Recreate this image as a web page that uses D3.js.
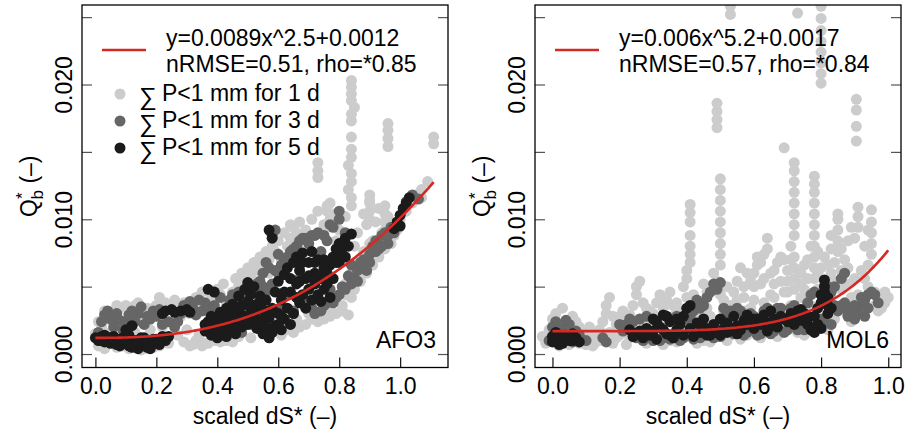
<!DOCTYPE html>
<html>
<head>
<meta charset="utf-8">
<script src="https://cdn.jsdelivr.net/npm/d3@7"></script>
<style>
  body { margin: 0; background: #fff; }
  text { font-family: "Liberation Sans", Arial, sans-serif; }
</style>
</head>
<body>
<svg id="chart" width="908" height="437"></svg>
<script>
// scatter values are [scaled dS*, Q*b in units of 1e-3]

// AFO3, dry spell of 1, 3 and 5 days
const afoDry1 = [
  [0,1.5],[0.01,0.6],[0.02,2.0],[0.03,0.4],[0.04,2.6],[0.05,1.6],[0.06,3.0],[0.07,0.5],[0.08,3.4],[0.09,2.2],
  [0.1,3.6],[0.11,0.4],[0.12,3.2],[0.13,1.6],[0.14,3.8],[0.15,0.3],[0.16,2.4],[0.17,3.4],[0.18,1.8],[0.19,0.5],
  [0.2,3.6],[0.21,4.2],[0.22,2.0],[0.23,3.8],[0.24,0.8],[0.25,2.4],[0.26,4.0],[0.27,1.4],[0.28,2.8],[0.29,0.9],
  [0.3,1.8],[0.31,3.0],[0.32,0.7],[0.33,4.2],[0.34,1.4],[0.35,4.6],[0.36,0.8],[0.37,3.4],[0.38,4.4],[0.39,1.0],
  [0.4,4.8],[0.41,0.9],[0.42,5.2],[0.43,3.8],[0.44,1.1],[0.45,4.6],[0.46,5.6],[0.47,1.3],[0.48,6.0],[0.49,3.0],
  [0.5,6.4],[0.51,1.2],[0.52,6.8],[0.53,5.2],[0.54,7.2],[0.55,1.6],[0.56,7.6],[0.57,6.0],[0.58,8.0],[0.59,2.2],
  [0.6,8.4],[0.61,7.0],[0.62,9.0],[0.63,1.8],[0.64,8.6],[0.65,9.4],[0.66,2.6],[0.67,9.8],[0.68,7.6],[0.69,9.2],
  [0.7,3.0],[0.71,10.0],[0.72,8.8],[0.73,10.6],[0.74,2.8],[0.75,9.6],[0.76,11.0],[0.77,3.4],[0.78,10.4],[0.79,8.4],
  [0.8,9.2],[0.81,3.6],[0.82,10.2],[0.83,2.9],[0.84,4.2],[0.85,8.0],[0.86,9.0],[0.87,6.2],[0.88,10.4],[0.89,9.6],
  [0.9,11.4],[0.91,8.4],[0.92,9.8],[0.93,10.8],[0.94,9.0],[0.95,8.6],[0.96,10.2],[0.97,9.4],[0.98,8.8],[1.0,10.0],
  [1.05,11.8],[1.07,12.2],[1.09,12.8],[0.82,5.2],[0.84,6.0],[0.86,6.8],[0.88,7.6],[0.9,8.2],[0.82,4.4],
  [0.84,11.0],[0.84,11.6],[0.83,12.2],[0.84,12.8],[0.84,13.4],[0.83,14.0],[0.84,14.6],[0.84,15.2],[0.84,16.1],
  [0.84,17.3],[0.84,17.8],[0.85,18.3],[0.84,18.8],[0.84,19.3],[0.84,19.8],[0.84,20.3],
  [0.96,15.4],[0.96,16.0],[0.96,16.6],[0.96,17.1],[1.11,15.6],[1.11,16.1],[0.73,13.1],[0.73,13.6],[0.73,14.2],
  [0.76,9.4],[0.77,10.0],[0.76,10.6],[0.77,11.2],[0.9,10.0],[0.9,10.6],[0.9,11.2],[0.9,11.8],
  [0.95,9.2],[0.95,9.8],[0.95,10.4],[0.95,11.0],[0.64,9.6],[0.66,9.0],[1.07,11.6],
  [0.01,2.4],[0.03,3.2],[0.05,2.8],[0.07,3.6],[0.09,0.6],[0.11,3.0],[0.13,3.6],[0.15,3.2],[0.17,0.4],[0.19,3.4],
  [0.21,0.6],[0.23,1.0],[0.25,3.6],[0.27,3.4],[0.29,3.8],[0.31,0.6],[0.33,1.0],[0.35,0.6],[0.37,0.8],[0.39,4.0],
  [0.41,4.4],[0.43,1.0],[0.45,0.9],[0.47,5.0],[0.49,5.4],[0.51,5.8],[0.53,6.2],[0.55,6.6],[0.57,7.0],[0.59,7.6],
  [0.61,1.4],[0.63,8.0],[0.65,1.6],[0.67,2.0],[0.69,2.2],[0.71,2.6],[0.73,2.4],[0.75,2.6],[0.77,2.8],[0.79,3.0],
  [0.81,3.2],[0.85,4.8],[0.87,5.4],[0.89,6.0],[0.91,6.6],[0.93,7.2],[0.95,7.8],[0.97,8.2],[0.99,9.2],[1.02,10.6],
  [1.04,11.2]
];
const afoDry3 = [
  [0.01,1.6],[0.02,2.4],[0.03,2.9],[0.04,3.2],[0.05,2.6],[0.06,2.0],[0.07,3.0],[0.08,2.5],[0.09,1.8],[0.13,2.4],
  [0.14,3.0],[0.15,3.5],[0.16,2.2],[0.18,2.6],[0.19,3.2],[0.2,2.8],[0.26,2.0],[0.27,2.4],[0.29,3.6],[0.31,3.9],
  [0.32,3.4],[0.33,2.9],[0.36,3.8],[0.35,3.2],
  [0.38,2.4],[0.39,3.6],[0.41,4.2],[0.42,1.4],[0.43,2.8],[0.44,4.0],[0.45,2.2],[0.46,3.5],[0.47,4.6],[0.48,1.6],
  [0.49,3.9],[0.5,4.4],[0.51,2.2],[0.52,4.8],[0.53,2.6],[0.54,5.4],[0.55,6.0],[0.56,4.6],[0.57,6.4],[0.58,5.2],
  [0.58,8.8],[0.59,9.2],[0.6,6.0],[0.61,3.4],[0.62,7.0],[0.63,4.4],[0.64,7.6],[0.65,3.2],[0.66,8.0],[0.67,5.6],
  [0.68,8.6],[0.69,4.0],[0.7,8.2],[0.71,3.4],[0.72,8.8],[0.73,4.2],[0.74,7.6],[0.75,3.6],[0.76,8.4],[0.77,4.8],
  [0.78,9.4],[0.79,4.2],[0.8,10.0],[0.81,5.0],[0.8,10.6],[0.82,9.0],[0.83,5.8],[0.84,6.6],[0.85,5.6],[0.86,6.2],
  [0.87,6.8],[0.88,7.0],[0.89,6.2],[0.9,7.4],[0.91,8.0],[0.92,8.4],[0.93,7.8],[0.94,8.8],[0.95,9.0],[0.96,8.2],
  [0.97,9.4],[1.02,11.3],[1.04,11.8],[1.06,11.5],
  [0.1,2.4],[0.11,2.9],[0.12,3.2],[0.17,2.8],[0.21,3.3],[0.22,2.2],[0.24,2.4],[0.28,3.0],[0.3,3.6],[0.34,4.0],
  [0.37,3.2],[0.4,3.0],[0.45,4.4],[0.48,4.2],[0.5,3.4],[0.53,5.2],[0.55,5.0],[0.56,6.8],[0.59,6.2],[0.6,7.4],
  [0.61,6.6],[0.63,7.2],[0.65,7.8],[0.67,8.4],[0.69,8.6],[0.71,8.8],[0.73,9.0],[0.75,8.8],[0.77,9.6],[0.72,3.0],
  [0.74,3.2],[0.76,3.8],[0.78,3.8],[0.8,4.4],[0.82,4.8],[0.84,5.2],[0.86,5.4],[0.88,6.4],[0.9,6.8],[0.92,7.6],
  [0.94,8.0],[0.96,8.8],[0.98,9.0]
];
const afoDry5 = [
  [0,1.2],[0.01,1.0],[0.02,1.3],[0.03,0.9],[0.04,1.2],[0.05,0.8],[0.06,1.3],[0.07,1.0],[0.08,0.6],[0.09,1.2],
  [0.1,0.8],[0.1,1.8],[0.11,1.4],[0.12,2.1],[0.12,0.5],[0.13,1.0],[0.14,0.4],[0.15,1.2],[0.16,0.7],[0.17,1.0],
  [0.18,0.4],[0.19,0.8],[0.2,1.1],[0.21,0.7],[0.22,1.3],[0.23,1.0],[0.24,1.3],
  [0.22,3.0],[0.23,3.2],[0.25,3.3],[0.26,3.1],[0.28,3.2],[0.3,3.3],[0.31,3.1],
  [0.36,1.7],[0.37,2.4],[0.37,4.8],[0.38,1.4],[0.39,2.0],[0.39,4.6],[0.4,2.7],[0.4,1.2],[0.41,3.1],[0.41,1.8],
  [0.42,2.3],[0.43,3.4],[0.43,1.3],[0.44,2.7],[0.44,1.9],[0.45,3.7],[0.46,2.4],[0.46,1.5],[0.47,3.2],[0.47,4.3],
  [0.48,2.0],[0.48,3.6],[0.49,4.8],[0.49,2.8],[0.5,5.3],[0.5,3.9],[0.51,2.4],[0.51,4.4],[0.52,5.0],[0.52,3.1],
  [0.53,1.9],[0.53,3.7],[0.54,4.3],[0.54,2.3],[0.55,1.5],[0.55,3.3],[0.56,2.0],[0.56,4.0],[0.57,2.7],[0.57,1.2],
  [0.58,3.4],[0.58,8.6],[0.57,9.2],[0.59,2.1],[0.59,4.6],[0.6,3.0],[0.6,5.4],[0.61,1.8],[0.61,4.0],[0.62,5.9],
  [0.62,2.6],[0.63,3.4],[0.63,6.4],[0.64,4.6],[0.64,2.2],[0.65,6.8],[0.65,3.0],[0.66,5.2],[0.66,7.2],[0.67,3.8],
  [0.67,6.2],[0.68,7.5],[0.68,4.4],[0.69,5.6],[0.69,3.4],[0.7,6.8],[0.7,4.8],[0.71,7.6],[0.71,4.0],[0.72,6.0],
  [0.72,5.2],[0.73,4.4],[0.73,7.0],[0.74,5.6],[0.74,3.9],[0.75,6.4],[0.75,4.8],[0.76,5.2],[0.77,6.6],[0.77,4.2],
  [0.78,7.2],[0.78,5.6],[0.79,7.8],[0.8,6.8],[0.8,8.2],[0.81,7.4],[0.82,8.6],[0.83,8.0],[0.84,8.9],
  [0.98,9.3],[0.99,9.8],[1.0,10.3],[1.0,9.5],[1.01,10.8],[1.02,11.2],[1.03,11.6],
  [0.02,1.0],[0.03,1.4],[0.05,1.2],[0.07,0.7],[0.08,1.1],[0.09,0.9],[0.11,0.6],[0.13,0.7],[0.14,1.0],[0.16,1.2],
  [0.17,0.5],[0.19,1.1],[0.21,1.0],[0.36,2.2],[0.38,2.8],[0.4,1.8],[0.42,2.8],[0.44,3.2],[0.45,2.0],[0.46,3.0],
  [0.48,2.6],[0.5,2.2],[0.51,3.4],[0.53,2.6],[0.55,2.6],[0.57,3.2],[0.58,1.6],[0.6,2.2],[0.61,2.8],[0.62,4.6],
  [0.64,5.6],[0.66,4.2],[0.67,5.4],[0.68,6.8],[0.7,5.8],[0.72,6.8],[0.73,5.8],[0.75,7.0],[0.76,6.0],[0.79,6.8],
  [0.81,8.0],[0.82,7.2]
];

// MOL6, dry spell of 1, 3 and 5 days
const molDry1 = [
  [-0.03,1.3],[-0.02,0.8],[-0.01,1.8],[0,2.6],[0.01,3.0],[0.02,0.6],[0.03,3.4],[0.04,2.2],[0.05,0.7],[0.06,1.8],
  [0.07,2.4],[0.08,0.8],[0.09,1.6],[0.1,1.2],[0.11,2.0],[0.12,0.6],[0.13,1.4],[0.14,1.0],[0.15,2.4],[0.16,3.0],
  [0.16,3.6],[0.17,4.2],[0.18,2.8],[0.19,1.2],[0.2,2.8],[0.21,3.2],[0.22,0.7],[0.23,2.9],[0.24,3.6],[0.25,4.4],
  [0.25,5.0],[0.26,5.4],[0.27,3.8],[0.28,0.8],[0.29,3.2],[0.3,1.4],[0.31,3.8],[0.32,4.4],[0.33,0.7],[0.34,4.0],
  [0.35,4.6],[0.36,3.6],[0.37,0.9],[0.38,3.2],[0.39,5.0],[0.4,5.6],[0.4,6.2],[0.41,6.8],[0.41,7.4],[0.41,8.0],
  [0.41,8.8],[0.41,9.8],[0.41,10.5],[0.41,11.1],[0.42,4.4],[0.43,0.8],[0.44,3.0],[0.45,5.2],[0.46,3.4],[0.47,0.9],
  [0.48,6.0],[0.49,5.4],[0.5,6.6],[0.5,7.4],[0.5,8.2],[0.5,9.0],[0.5,9.8],[0.5,10.6],[0.5,11.4],[0.5,12.2],
  [0.5,13.0],[0.49,16.8],[0.49,17.4],[0.49,18.0],[0.49,18.6],[0.51,4.0],[0.52,1.0],[0.53,3.6],[0.53,25.2],[0.53,25.8],
  [0.54,4.6],[0.55,5.4],[0.56,1.1],[0.57,4.2],[0.58,6.0],[0.59,3.4],[0.6,5.0],[0.61,6.6],[0.61,7.2],[0.62,1.2],
  [0.63,5.6],[0.64,7.8],[0.64,8.6],[0.65,4.4],[0.66,6.2],[0.67,1.3],[0.68,5.4],[0.69,7.0],[0.69,15.3],[0.7,4.6],
  [0.71,8.0],[0.72,5.6],[0.72,6.4],[0.72,7.2],[0.72,8.8],[0.72,9.6],[0.72,10.4],[0.72,11.2],[0.72,12.0],[0.72,12.8],
  [0.72,13.6],[0.72,14.2],[0.73,25.3],[0.74,4.2],[0.75,1.4],[0.76,7.0],[0.78,5.6],[0.78,6.4],[0.78,7.2],[0.78,8.0],
  [0.78,8.8],[0.78,9.6],[0.78,10.4],[0.78,11.2],[0.78,12.0],[0.78,12.6],[0.78,13.2],[0.79,6.0],[0.8,20.1],[0.8,20.8],
  [0.8,21.6],[0.8,22.4],[0.8,23.2],[0.8,24.0],[0.8,24.9],[0.8,25.8],[0.81,5.2],[0.82,1.8],[0.83,6.0],[0.84,5.4],
  [0.84,6.8],[0.85,7.6],[0.85,8.4],[0.85,9.2],[0.85,10.0],[0.85,10.4],[0.86,4.8],[0.87,3.2],[0.88,6.4],[0.89,2.4],
  [0.9,8.6],[0.91,9.4],[0.91,10.2],[0.91,10.9],[0.905,15.8],[0.905,16.9],[0.905,18.1],[0.905,18.9],[0.92,3.0],[0.93,5.6],
  [0.94,6.6],[0.95,7.4],[0.95,8.2],[0.95,9.0],[0.95,9.8],[0.95,10.7],[0.96,3.6],[0.97,4.0],[0.98,3.4],[0.99,4.6],
  [1.0,4.2],
  [0.0,1.0],[0.02,1.6],[0.04,1.2],[0.06,2.8],[0.08,2.0],[0.1,0.7],[0.11,1.5],[0.13,0.9],[0.14,1.8],[0.17,1.6],
  [0.18,0.8],[0.19,2.2],[0.2,1.4],[0.21,2.0],[0.22,1.6],[0.23,1.2],[0.24,2.2],[0.26,1.6],[0.27,2.4],[0.28,3.4],
  [0.29,2.0],[0.3,3.0],[0.31,2.2],[0.32,1.2],[0.33,3.4],[0.34,2.6],[0.35,1.0],[0.36,2.8],[0.37,3.8],[0.38,2.4],
  [0.39,1.2],[0.4,4.2],[0.42,2.4],[0.43,3.6],[0.44,2.0],[0.45,1.0],[0.46,4.6],[0.47,2.8],[0.48,1.2],[0.5,4.4],
  [0.51,3.2],[0.52,5.0],[0.53,1.4],[0.54,3.0],[0.55,4.0],[0.56,6.4],[0.57,3.2],[0.58,1.4],[0.59,5.4],[0.6,4.0],
  [0.61,1.5],[0.62,5.2],[0.63,3.8],[0.64,1.6],[0.65,6.0],[0.66,4.2],[0.67,3.0],[0.68,7.2],[0.69,4.6],[0.7,6.2],
  [0.71,3.6],[0.72,4.8],[0.73,1.6],[0.74,6.0],[0.75,4.8],[0.76,5.6],[0.77,3.6],[0.79,4.8],[0.8,6.4],[0.81,7.2],
  [0.82,4.4],[0.83,7.8],[0.84,2.6],[0.86,6.2],[0.87,7.0],[0.88,5.2],[0.89,4.2],[0.9,5.6],[0.91,4.4],[0.92,6.2],
  [0.93,3.4],[0.94,5.0],[0.96,4.6],[0.97,3.2],[0.98,4.0],[0.99,3.8],
  [0.57,5.0],[0.6,6.0],[0.62,6.8],[0.63,7.4],[0.66,5.2],[0.67,6.8],[0.7,5.4],[0.71,7.0],[0.74,5.2],[0.75,6.6],
  [0.77,8.0],[0.79,7.6],[0.82,6.6],[0.83,8.8],[0.86,7.8],[0.88,8.4],[0.89,9.4],[0.93,8.0],[0.94,9.2]
];
const molDry3 = [
  [-0.01,1.0],[0,2.0],[0.01,2.4],[0.03,1.9],[0.05,2.2],[0.07,1.7],[0.06,0.9],[0.15,1.2],[0.16,0.9],[0.2,2.2],
  [0.21,1.7],[0.23,2.6],[0.25,1.2],[0.26,2.6],[0.28,2.8],[0.3,1.0],[0.33,1.2],[0.37,2.8],[0.38,1.0],[0.4,2.6],
  [0.42,3.2],[0.43,4.0],[0.44,1.2],[0.45,3.6],[0.46,4.2],[0.47,4.6],[0.48,5.2],[0.49,4.8],[0.5,5.3],[0.5,1.3],
  [0.52,3.0],[0.54,1.5],[0.56,3.2],[0.58,1.6],[0.6,2.8],[0.62,1.5],[0.64,3.4],[0.66,1.7],[0.68,3.4],[0.7,1.8],
  [0.72,3.6],[0.74,2.0],[0.76,3.8],[0.77,4.4],[0.78,4.6],[0.79,2.2],[0.81,2.4],[0.83,4.6],[0.84,5.0],[0.85,3.2],
  [0.86,5.6],[0.87,6.0],[0.87,3.8],[0.88,2.8],[0.89,3.4],[0.9,2.6],[0.91,3.0],[0.92,3.6],[0.93,4.0],[0.94,4.4],
  [0.95,4.6],[0.84,3.6],
  [0.02,1.2],[0.04,2.5],[0.08,1.4],[0.1,1.0],[0.22,2.2],[0.24,2.4],[0.27,1.0],[0.32,1.0],[0.35,1.1],[0.39,1.2],
  [0.41,2.8],[0.42,1.1],[0.44,3.4],[0.48,1.2],[0.51,3.4],[0.53,3.2],[0.55,3.4],[0.57,1.4],[0.59,3.0],[0.61,1.4],
  [0.63,3.2],[0.65,1.5],[0.67,3.4],[0.69,1.6],[0.71,3.4],[0.73,1.8],[0.75,1.8],[0.8,2.6],[0.82,5.0],[0.83,2.2],
  [0.86,3.6],[0.88,3.2],[0.9,3.6],[0.92,4.2],[0.93,2.8],[0.94,3.4],[0.96,4.4],[0.97,3.8]
];
const molDry5 = [
  [0,1.3],[0,0.9],[0.01,1.6],[0.02,1.1],[0.03,0.8],[0.04,1.4],[0.05,1.0],[0.06,1.5],[0.07,1.2],[0.08,0.9],
  [0.23,1.8],[0.25,1.5],[0.27,1.2],[0.28,1.9],[0.29,1.4],[0.3,2.6],[0.31,1.1],[0.32,2.0],[0.33,2.9],[0.34,1.5],
  [0.35,2.4],[0.36,1.2],[0.37,1.8],[0.38,2.2],[0.39,1.4],[0.4,3.4],[0.41,1.9],[0.42,1.3],[0.43,2.3],[0.44,1.6],
  [0.45,2.6],[0.46,1.9],[0.47,1.4],[0.48,2.2],[0.49,1.6],[0.5,2.6],[0.51,1.9],[0.52,2.3],[0.53,1.7],[0.54,2.8],
  [0.55,2.1],[0.56,1.8],[0.57,2.5],[0.58,2.9],[0.59,2.2],[0.6,1.9],[0.61,2.6],[0.63,2.9],[0.64,2.3],[0.65,3.2],
  [0.66,2.6],[0.67,2.0],[0.68,2.8],[0.7,2.4],[0.71,3.0],[0.72,2.7],[0.73,3.2],[0.74,2.5],[0.75,3.0],[0.76,2.2],
  [0.77,1.8],[0.78,2.8],[0.79,3.4],[0.8,3.8],[0.8,4.4],[0.81,5.0],[0.81,5.5],[0.82,4.2],[0.82,3.0],[0.8,1.9],
  [0.78,1.6],
  [0.01,1.2],[0.02,0.7],[0.03,1.4],[0.05,1.3],[0.06,1.0],[0.24,1.3],[0.26,1.7],[0.3,1.7],[0.31,2.4],[0.33,1.8],
  [0.34,2.8],[0.35,1.4],[0.37,2.6],[0.39,2.8],[0.41,3.6],[0.44,2.2],[0.46,1.4],[0.5,1.4],[0.52,1.6],[0.55,1.5],
  [0.58,2.2],[0.6,2.6],[0.62,2.2],[0.64,1.7],[0.66,2.1],[0.69,2.6],[0.72,2.2],[0.74,3.3],[0.76,2.8],[0.79,2.2],
  [0.81,4.6],[0.82,3.6],[0.83,3.4]
];

// fitted power laws y = a * x^b + c, as printed in the legends
const afoFit = [0.0089, 2.5, 0.0012];
const molFit = [0.006, 5.2, 0.0017];
const afoFitRange = [0, 1.11];
const molFitRange = [0, 1.0];

const xTickValues = [0, 0.2, 0.4, 0.6, 0.8, 1.0];
const yTickValues = [0, 0.005, 0.010, 0.015, 0.020, 0.025];
const yTickLabels = ["0.000", "", "0.010", "", "0.020", ""];
const dryLabels = ["P<1 mm for 1 d", "P<1 mm for 3 d", "P<1 mm for 5 d"];
const dryColors = ["#cccccc", "#666666", "#1b1b1b"];

const panels = [
  { site: "AFO3", left: 82, xDomain: [-0.044, 1.157], series: [afoDry1, afoDry3, afoDry5],
    fit: afoFit, fitRange: afoFitRange,
    fitText: ["y=0.0089x^2.5+0.0012", "nRMSE=0.51, rho=*0.85"], showDry: true },
  { site: "MOL6", left: 535, xDomain: [-0.052, 1.038], series: [molDry1, molDry3, molDry5],
    fit: molFit, fitRange: molFitRange,
    fitText: ["y=0.006x^5.2+0.0017", "nRMSE=0.57, rho=*0.84"], showDry: false }
];

const svg = d3.select("#chart");
const boxW = 366, boxTop = 5, boxBottom = 367.5;

panels.forEach(function(p, pi) {
  const g = svg.append("g").attr("transform", "translate(" + p.left + ",0)");

  const x = d3.scaleLinear().domain(p.xDomain).range([0, boxW]);
  const y = d3.scaleLinear().domain([-0.001, 0.0259]).range([boxBottom, boxTop]);

  const clipId = "clip" + pi;
  g.append("clipPath").attr("id", clipId)
    .append("rect").attr("x", 0).attr("y", boxTop).attr("width", boxW).attr("height", boxBottom - boxTop);

  // points: 1 d first, 5 d on top
  const plot = g.append("g").attr("clip-path", "url(#" + clipId + ")");
  p.series.forEach(function(s, si) {
    plot.append("g").selectAll("circle")
      .data(s)
      .join("circle")
      .attr("cx", d => x(d[0]))
      .attr("cy", d => y(d[1] / 1000))
      .attr("r", 5.5)
      .attr("fill", dryColors[si]);
  });

  // fitted curve
  const f = p.fit;
  const xs = d3.range(p.fitRange[0], p.fitRange[1] + 1e-9, 0.005);
  plot.append("path")
    .datum(xs)
    .attr("fill", "none")
    .attr("stroke", "#d52a24")
    .attr("stroke-width", 2.6)
    .attr("d", d3.line().x(d => x(d)).y(d => y(f[0] * Math.pow(d, f[1]) + f[2])));

  // axes, ticks pointing inward like R tcl > 0
  const xAxis = g.append("g")
    .attr("transform", "translate(0," + boxBottom + ")")
    .call(d3.axisBottom(x).tickValues(xTickValues).tickSize(-10).tickPadding(10).tickFormat(d3.format(".1f")));
  xAxis.select(".domain").remove();
  xAxis.selectAll("line").attr("stroke", "#111").attr("stroke-width", 1.2);
  xAxis.selectAll("text").attr("font-size", 23).attr("fill", "#000")
    .style("font-family", "'Liberation Sans', Arial, sans-serif");

  const yAxis = g.append("g")
    .call(d3.axisLeft(y).tickValues(yTickValues).tickSize(-10).tickFormat((d, i) => yTickLabels[i]));
  yAxis.select(".domain").remove();
  yAxis.selectAll("line").attr("stroke", "#555").attr("stroke-width", 1.2);
  yAxis.selectAll("text")
    .attr("transform", "rotate(-90)")
    .attr("x", 0).attr("y", -10).attr("dy", 0)
    .attr("text-anchor", "middle")
    .attr("font-size", 23).attr("fill", "#000")
    .style("font-family", "'Liberation Sans', Arial, sans-serif");

  const yAxisR = g.append("g")
    .attr("transform", "translate(" + boxW + ",0)")
    .call(d3.axisRight(y).tickValues(yTickValues).tickSize(-10).tickFormat(""));
  yAxisR.select(".domain").remove();
  yAxisR.selectAll("line").attr("stroke", "#555").attr("stroke-width", 1.2);

  g.append("rect")
    .attr("x", 0).attr("y", boxTop).attr("width", boxW).attr("height", boxBottom - boxTop)
    .attr("fill", "none").attr("stroke", "#000").attr("stroke-width", 1.3);

  // axis titles
  g.append("text")
    .attr("x", boxW / 2).attr("y", 424)
    .attr("text-anchor", "middle").attr("font-size", 23)
    .text("scaled dS* (\u2013)");

  const yt = g.append("text")
    .attr("transform", "translate(-45," + ((boxTop + boxBottom) / 2) + ") rotate(-90)")
    .attr("text-anchor", "middle").attr("font-size", 23);
  yt.append("tspan").text("Q");
  yt.append("tspan").attr("dy", -9).attr("font-size", 17).text("*");
  yt.append("tspan").attr("dx", -7).attr("dy", 15).attr("font-size", 17).text("b");
  yt.append("tspan").attr("dy", -6).text(" (\u2013)");

  // site label
  g.append("text")
    .attr("x", boxW - 12).attr("y", 348)
    .attr("text-anchor", "end").attr("font-size", 23)
    .text(p.site);

  // legend
  const lg = g.append("g");
  lg.append("line")
    .attr("x1", 20).attr("x2", 64).attr("y1", 50).attr("y2", 50)
    .attr("stroke", "#d52a24").attr("stroke-width", 2.6);
  p.fitText.forEach(function(t, i) {
    lg.append("text")
      .attr("x", 84).attr("y", 46 + i * 25.5)
      .attr("font-size", 23)
      .text(t);
  });
  if (p.showDry) {
    dryLabels.forEach(function(t, i) {
      const yy = 101 + i * 27;
      lg.append("circle")
        .attr("cx", 38).attr("cy", yy - 7).attr("r", 5.5)
        .attr("fill", dryColors[i]);
      lg.append("text")
        .attr("x", 57).attr("y", yy + 4)
        .attr("font-size", 25)
        .text("\u2211");
      lg.append("text")
        .attr("x", 80).attr("y", yy)
        .attr("font-size", 23)
        .text(t);
    });
  }
});
</script>
</body>
</html>
